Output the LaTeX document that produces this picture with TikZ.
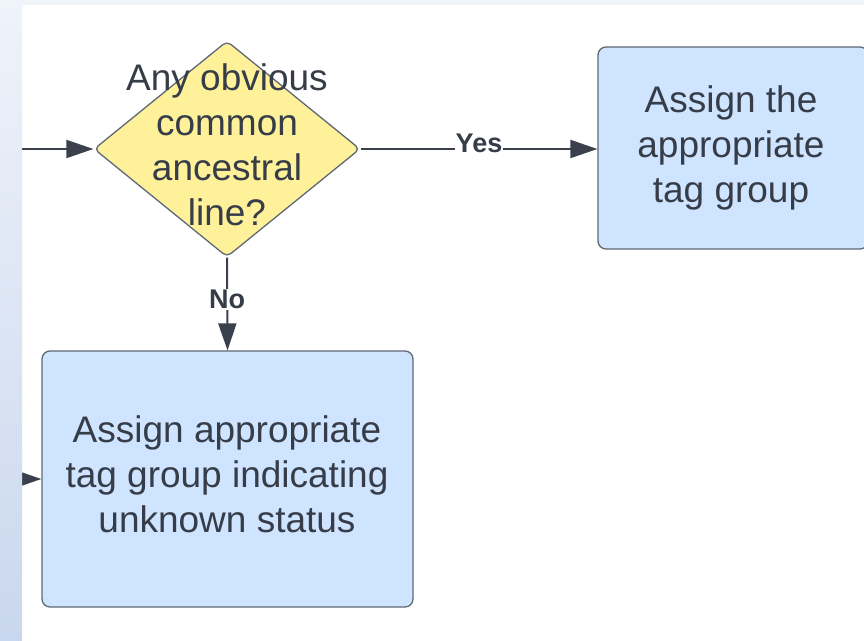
\documentclass[tikz,border=0pt]{standalone}
\usepackage{fontspec}
\setmainfont{Liberation Sans}
\usetikzlibrary{shapes.geometric,arrows.meta}
\definecolor{txt}{HTML}{363D48}
\definecolor{edge}{HTML}{3A414D}
\definecolor{bord}{HTML}{5F6875}
\definecolor{boxfill}{HTML}{CFE4FF}
\definecolor{dfill}{HTML}{FEF19A}
\definecolor{stripA}{HTML}{EFF3FA}
\definecolor{stripB}{HTML}{C9D7EE}
\definecolor{topstrip}{HTML}{F0F4F9}
\tikzset{
  procbox/.style={draw=bord, line width=1.3pt, fill=boxfill, rounded corners=8pt, inner sep=0pt},
  decbox/.style={diamond, draw=bord, line width=1.3pt, fill=dfill, rounded corners=5pt, inner sep=0pt},
  bigtext/.style={text=txt, align=center, font=\fontsize{37}{45}\selectfont},
  arr/.style={draw=edge, line width=2pt, -{Triangle[length=27pt,width=18pt]}},
  elabel/.style={text=txt, fill=white, inner sep=1pt, font=\fontsize{27}{30}\selectfont\bfseries},
}
\begin{document}
\begin{tikzpicture}[x=1pt,y=-1pt]
\useasboundingbox (0,0) rectangle (864,640);
\begin{scope}
\clip (0,0) rectangle (864,640);
\fill[white] (0,0) rectangle (864,640);
% nodes
\node[decbox, minimum width=266pt, minimum height=216pt] (q) at (227,149) {};
\node[bigtext] (qt) at (227,145) {Any obvious\\common\\ancestral\\line?};
\node[procbox, minimum width=270pt, minimum height=202pt] (b1) at (733,148) {};
\node[bigtext] (b1t) at (731,148) {Assign the\\appropriate\\tag group};
\node[procbox, minimum width=371pt, minimum height=256pt] (b2) at (227.5,479) {};
\node[bigtext] (b2t) at (227,474) {Assign appropriate\\tag group indicating\\unknown status};
\coordinate (in1) at (0,149);
\coordinate (in2) at (0,479);
% connectors
\draw[arr] (in1) -- (q.west);
\draw[arr] (in2) -- (b2.west);
\draw[arr] (q.east) -- (b1.west |- q.east) node[elabel, pos=0.5, yshift=6pt] {Yes};
\draw[arr] (q.south) -- (b2.north) node[elabel, pos=0.45] {No};
% page strips
\shade[top color=stripA, bottom color=stripB] (0,0) rectangle (22,640);
\fill[topstrip] (22,0) rectangle (864,5);
\end{scope}
\end{tikzpicture}
\end{document}
